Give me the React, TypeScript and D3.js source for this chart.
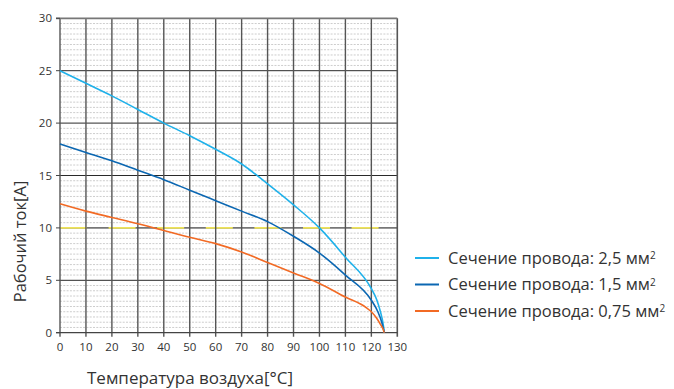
import React from "react";
import * as d3 from "d3";

const xTicks = [0, 10, 20, 30, 40, 50, 60, 70, 80, 90, 100, 110, 120, 130];
const yTicks = [0, 5, 10, 15, 20, 25, 30];

const temp25 = [0, 10, 20, 30, 40, 50, 60, 70, 80, 90, 100, 110, 120, 122, 123.5, 124.5, 125];
const cur25 = [25, 23.8, 22.6, 21.3, 20, 18.8, 17.5, 16.1, 14.2, 12.2, 10.0, 7.2, 4.2, 3.2, 2.0, 0.9, 0];

const temp15 = [0, 10, 20, 30, 40, 50, 60, 70, 80, 90, 100, 110, 120, 122.5, 124, 125];
const cur15 = [18, 17.2, 16.4, 15.5, 14.6, 13.6, 12.6, 11.6, 10.6, 9.2, 7.6, 5.5, 3.1, 2.0, 1.0, 0];

const temp075 = [0, 10, 20, 30, 40, 50, 60, 70, 80, 90, 100, 110, 118, 120, 122, 123.5, 124.5, 125];
const cur075 = [12.3, 11.6, 11.0, 10.4, 9.75, 9.1, 8.5, 7.7, 6.7, 5.7, 4.7, 3.4, 2.4, 2.0, 1.4, 0.8, 0.35, 0];

const seriesNames = ["Сечение провода: 2,5 мм", "Сечение провода: 1,5 мм", "Сечение провода: 0,75 мм"];
const seriesColors = ["#1fb1ea", "#0b67b2", "#f26a24"];

const FONT = "'Open Sans', 'Noto Sans', sans-serif";

export default function App() {
  const W = 674, H = 389;
  const x = d3.scaleLinear().domain([0, 130]).range([60, 397.3]);
  const y = d3.scaleLinear().domain([0, 30]).range([332.7, 18.3]);

  const series = [
    { t: temp25, c: cur25 },
    { t: temp15, c: cur15 },
    { t: temp075, c: cur075 },
  ];
  const line = d3
    .line<[number, number]>()
    .x((d) => x(d[0]))
    .y((d) => y(d[1]))
    .curve(d3.curveMonotoneX);

  const minor = d3.range(0.5, 30, 0.5).filter((v) => v % 5 !== 0);
  const majorY = [5, 10, 15, 20, 25];

  return (
    <div style={{ position: "absolute", left: 0, top: 0, width: W, height: H, overflow: "hidden" }}>
      <svg width={W} height={H} style={{ display: "block", background: "#fff" }}>
        {minor.map((v) => (
          <line key={"m" + v} x1={x(0)} x2={x(130)} y1={y(v)} y2={y(v)} stroke="#cdcdcd" strokeWidth={1} strokeDasharray="2,1.3" />
        ))}
        {majorY.map((v) => (
          <line key={"h" + v} x1={x(0)} x2={x(130)} y1={y(v)} y2={y(v)} stroke={v === 10 ? "#777" : "#2a2a2a"} strokeWidth={v === 10 ? 1.6 : 1} />
        ))}
        <line x1={x(0)} x2={x(130)} y1={y(10)} y2={y(10)} stroke="#eee35a" strokeWidth={1.6} strokeDasharray="27,21.6" />
        {xTicks.map((v) => (
          <line key={"v" + v} x1={x(v)} x2={x(v)} y1={y(30)} y2={y(0) + 4} stroke="#555" strokeWidth={v === 130 ? 1.6 : 1.4} />
        ))}
        <line x1={x(0) - 4} x2={x(130)} y1={y(30)} y2={y(30)} stroke="#777" strokeWidth={1.8} />
        <line x1={x(0) - 4} x2={x(130)} y1={y(0)} y2={y(0)} stroke="#444" strokeWidth={1.2} />
        {yTicks.map((v) => (
          <line key={"yt" + v} x1={x(0) - 4} x2={x(0)} y1={y(v)} y2={y(v)} stroke="#444" strokeWidth={1} />
        ))}
        {yTicks.map((v) => (
          <text key={"yl" + v} x={52} y={y(v)} dy="0.35em" textAnchor="end" fontFamily={FONT} fontSize={11.5} fill="#333">
            {v}
          </text>
        ))}
        {xTicks.map((v) => (
          <text key={"xl" + v} x={x(v)} y={351} textAnchor="middle" fontFamily={FONT} fontSize={11.5} fill="#333">
            {v}
          </text>
        ))}
        {series.map((s, i) => (
          <path
            key={"s" + i}
            d={line(s.t.map((t, j) => [t, s.c[j]] as [number, number])) || ""}
            fill="none"
            stroke={seriesColors[i]}
            strokeWidth={1.6}
          />
        ))}
        <text transform="translate(26,241.5) rotate(-90)" textAnchor="middle" fontFamily={FONT} fontSize={16.5} fill="#333">
          Рабочий ток[A]
        </text>
        <text x={190} y={384} textAnchor="middle" fontFamily={FONT} fontSize={17} fill="#333">
          Температура воздуха[°C]
        </text>
        {seriesNames.map((n, i) => (
          <g key={"lg" + i} transform={`translate(0,${258 + i * 26.5})`}>
            <line x1={415} x2={439} y1={0} y2={0} stroke={seriesColors[i]} strokeWidth={2} />
            <text x={448} y={0} dy="0.35em" fontFamily={FONT} fontSize={16.5} fill="#333">
              {n}
              <tspan dy="-0.45em" fontSize={10}>2</tspan>
            </text>
          </g>
        ))}
      </svg>
    </div>
  );
}
